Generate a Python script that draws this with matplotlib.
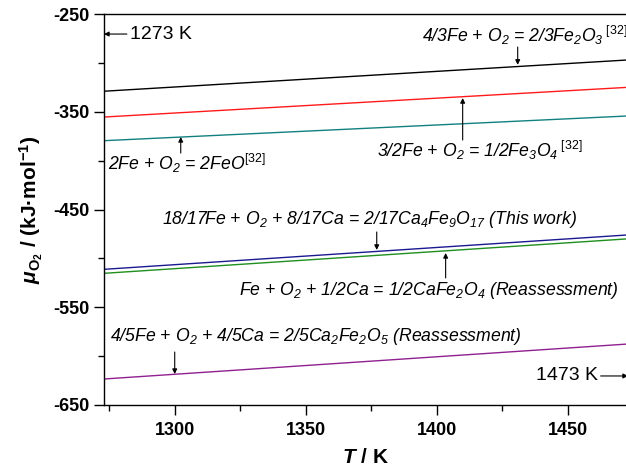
import matplotlib
matplotlib.use('Agg')
import matplotlib.pyplot as plt
from matplotlib.ticker import MultipleLocator

plt.rcParams['font.family'] = ['Liberation Sans', 'DejaVu Sans']
plt.rcParams['axes.unicode_minus'] = False
plt.rcParams['mathtext.fontset'] = 'custom'
plt.rcParams['mathtext.rm'] = 'Liberation Sans:italic'
plt.rcParams['mathtext.it'] = 'Liberation Sans:italic'
plt.rcParams['mathtext.sf'] = 'Liberation Sans'
plt.rcParams['mathtext.bf'] = 'Liberation Sans:bold'
plt.rcParams['mathtext.bfit'] = 'Liberation Sans:bold:italic'

# temperature end points of each line (K)
T = [1273, 1473]

# chemical potential of O2 at the two end points (kJ/mol)
mu_fe2o3 = [-329, -297]
mu_fe3o4 = [-355.4, -325]
mu_feo = [-379.6, -354.3]
mu_ca4fe9o17 = [-511.2, -476]
mu_cafe2o4 = [-515.3, -480]
mu_ca2fe2o5 = [-623.4, -587.6]

y_ticks = [-250, -350, -450, -550, -650]

series = [
    (mu_fe2o3, 'black'),
    (mu_fe3o4, '#ff1a1a'),
    (mu_feo, '#118080'),
    (mu_ca4fe9o17, '#1a1a90'),
    (mu_cafe2o4, '#1f8f1f'),
    (mu_ca2fe2o5, '#902090'),
]

fig = plt.figure(figsize=(6.26, 4.70), dpi=100)
ax = fig.add_axes([0.1661, 0.1383, 0.8371, 0.8319])

for mu, c in series:
    ax.plot(T, mu, color=c, lw=1.0)

ax.set_xlim(1273, 1473)
ax.set_ylim(-650, -250)
ax.xaxis.set_major_locator(MultipleLocator(50))
ax.xaxis.set_minor_locator(MultipleLocator(25))
ax.set_yticks(y_ticks)
ax.yaxis.set_minor_locator(MultipleLocator(50))
ax.tick_params(which='both', direction='out', top=False, right=False, width=1.0)
ax.tick_params(which='major', length=7, labelsize=13)
ax.tick_params(axis='x', which='major', pad=5)
ax.tick_params(which='minor', length=4)
for lab in ax.get_xticklabels() + ax.get_yticklabels():
    lab.set_fontweight('bold')
ax.spines['right'].set_visible(False)
for s in ['left', 'bottom', 'top']:
    ax.spines[s].set_linewidth(1.0)

ax.set_xlabel(r'$\mathbfit{T}$ / K', fontsize=15, fontweight='bold', labelpad=7)
ax.set_ylabel(r'$\mathbfit{\mu}_{\mathbf{O_2}}$ / (kJ·mol$^{\mathbf{-1}}$)',
              fontsize=15, fontweight='bold', labelpad=6)

arrow = dict(arrowstyle='-|>', color='black', lw=0.8, mutation_scale=7,
             shrinkA=0, shrinkB=0)
fs = 12.7

def label(x, y, s):
    ax.text(x, y, s, fontsize=fs, style='italic', ha='left', va='center')

def arr(x, y0, y1):
    ax.annotate('', xy=(x, y1), xytext=(x, y0), arrowprops=arrow)

label(1394.3, -271.5, r'4/3Fe + O$_2$ = 2/3Fe$_2$O$_3$$^{\mathsf{\ [32]}}$')
arr(1430.9, -283.8, -302)

label(1274.4, -402.4, r'2Fe + O$_2$ = 2FeO$^{\mathsf{[32]}}$')
arr(1302.3, -392.2, -375.8)

label(1377.1, -389.1, r'3/2Fe + O$_2$ = 1/2Fe$_3$O$_4$$^{\mathsf{\ [32]}}$')
arr(1409.9, -378.9, -336)

label(1295.0, -460.7, r'18/17Fe + O$_2$ + 8/17Ca = 2/17Ca$_4$Fe$_9$O$_{17}$ (This work)')
arr(1377.1, -473, -491.4)

label(1324.4, -532.4, r'Fe + O$_2$ + 1/2Ca = 1/2CaFe$_2$O$_4$ (Reassessment)')
arr(1403.4, -520, -494.5)

label(1275.2, -580.4, r'4/5Fe + O$_2$ + 4/5Ca = 2/5Ca$_2$Fe$_2$O$_5$ (Reassessment)')
arr(1300, -595.8, -618.3)

ax.annotate('1273 K', xy=(1273, -270.5), xytext=(1282.8, -270.5), fontsize=14,
            va='center', ha='left', arrowprops=arrow)
ax.annotate('1473 K', xy=(1473, -620.3), xytext=(1461.5, -620.3), fontsize=14,
            va='center', ha='right', arrowprops=arrow, annotation_clip=False)

fig.savefig('out.png', dpi=100)
